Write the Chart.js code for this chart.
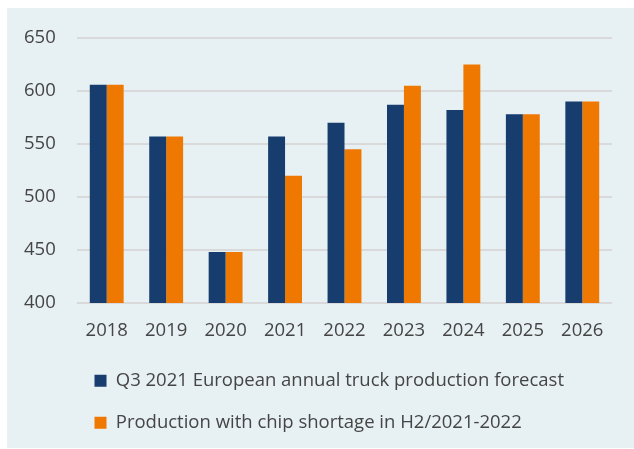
<!DOCTYPE html>
<html>
<head>
<meta charset="utf-8">
<script src="https://cdn.jsdelivr.net/npm/chart.js@4/dist/chart.umd.min.js"></script>
<style>
  html, body { margin: 0; padding: 0; background: #ffffff; }
  .panel {
    position: absolute;
    left: 7px;
    top: 8px;
    width: 627px;
    height: 440px;
    background: #e7f0f3;
  }
</style>
</head>
<body>
<div class="panel">
  <canvas id="chart" width="627" height="440"></canvas>
</div>
<script>
const years = ["2018", "2019", "2020", "2021", "2022", "2023", "2024", "2025", "2026"]
const forecast = [606, 557, 448, 557, 570, 587, 582, 578, 590]
const chipShortage = [606, 557, 448, 520, 545, 605, 625, 578, 590]
const seriesNames = [
  "Q3 2021 European annual truck production forecast",
  "Production with chip shortage in H2/2021-2022"
]
const yMin = 400
const yMax = 650
const yStep = 50

const textColor = "#454545"
const font = { family: "'Open Sans', sans-serif", size: 18.5 }

const ctx = document.getElementById("chart").getContext("2d")

new Chart(ctx, {
  type: "bar",
  data: {
    labels: years,
    datasets: [
      {
        label: seriesNames[0],
        data: forecast,
        backgroundColor: "#173d6e",
        borderWidth: 0,
        categoryPercentage: 0.57,
        barPercentage: 1.0
      },
      {
        label: seriesNames[1],
        data: chipShortage,
        backgroundColor: "#ef7800",
        borderWidth: 0,
        categoryPercentage: 0.57,
        barPercentage: 1.0
      }
    ]
  },
  options: {
    responsive: false,
    animation: false,
    layout: {
      padding: { left: 64, right: 22, top: 30, bottom: 6 }
    },
    plugins: {
      legend: {
        position: "bottom",
        align: "start",
        labels: {
          color: textColor,
          font: font,
          boxWidth: 12,
          boxHeight: 12,
          padding: 23.5
        }
      },
      tooltip: { enabled: false }
    },
    scales: {
      x: {
        grid: { display: false },
        border: { display: false },
        ticks: { color: textColor, font: font, padding: 9 },
        afterFit: (scale) => { scale.height = 45 }
      },
      y: {
        min: yMin,
        max: yMax,
        border: { display: false },
        grid: { color: "#d9d9d9", lineWidth: 2, drawTicks: false },
        // mirrored labels are not clipped to the (narrow) axis box
        ticks: { stepSize: yStep, color: textColor, font: font, mirror: true, padding: -53 },
        afterFit: (scale) => { scale.width = 6 }
      }
    }
  }
})
</script>
</body>
</html>
